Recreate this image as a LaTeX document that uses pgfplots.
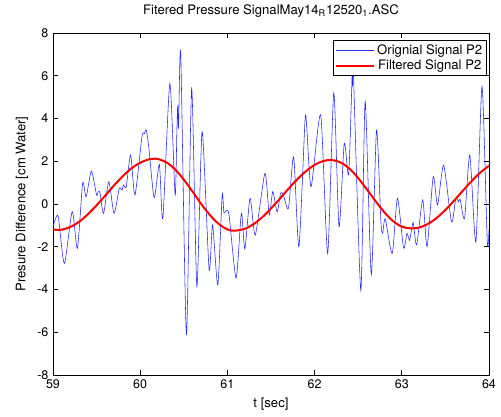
\documentclass[border=0pt]{standalone}
\usepackage{fontspec}
\setmainfont{TeX Gyre Heros}
\usepackage{pgfplots}
\pgfplotsset{compat=1.18}

\begin{document}
\fontsize{10.5}{12}\selectfont
\begin{tikzpicture}
% keep the page the size of the reference (1px = 0.8pt)
\useasboundingbox (-42.4pt,-32.8pt) rectangle (358.4pt,300pt);
\begin{axis}[
  at={(0,0)}, anchor=south west,
  width=348.8pt, height=273.6pt, scale only axis,
  xmin=59, xmax=64, ymin=-8, ymax=8,
  xtick={59,60,61,62,63,64},
  ytick={-8,-6,-4,-2,0,2,4,6,8},
  tick align=inside, tick pos=both, major tick length=4pt,
  axis line style={line width=0.6pt},
  every tick/.style={black, line width=0.6pt},
  /pgf/number format/assume math mode=true,
  tick label style={font=\fontsize{10}{11}\selectfont},
  title={Fitered Pressure SignalMay14\textsubscript{R}12520\textsubscript{1}.ASC},
  title style={yshift=3pt},
  xlabel={t [sec]},
  ylabel={Presure Difference [cm Water]},
  legend style={at={(1,1)}, anchor=north east, xshift=-1.6pt, yshift=-5.6pt,
    draw=black, fill=white, line width=0.6pt, font=\fontsize{10.5}{12}\selectfont,
    inner sep=1.5pt, row sep=-1.5pt},
  legend image code/.code={\draw[#1] (0pt,0pt) -- (30pt,0pt);},
]

% raw signal
\addplot[blue!85!white, line width=0.45pt, smooth, tension=0.4] coordinates {
(59.00,-1.10)(59.02,-0.80)(59.06,-0.59)(59.13,-2.78)(59.22,-0.36)(59.28,-2.07)
(59.34,0.97)(59.38,0.34)(59.44,1.54)(59.50,0.42)(59.52,0.60)(59.54,0.50)
(59.58,-0.44)(59.64,1.04)(59.70,-0.44)(59.76,0.73)(59.79,0.65)(59.81,0.89)
(59.84,0.80)(59.89,2.29)(59.94,0.42)(60.02,3.15)(60.05,3.30)(60.07,3.46)
(60.10,2.60)(60.16,0.30)(60.22,1.85)(60.26,-0.67)(60.34,5.64)(60.40,0.42)
(60.42,3.30)(60.43,4.60)(60.44,3.60)(60.465,7.00)(60.53,-6.10)(60.59,5.40)
(60.65,-3.86)(60.71,3.38)(60.79,-3.05)(60.83,-0.98)(60.89,-3.79)(60.94,0.42)
(60.96,-0.40)(60.99,-0.30)(61.02,-0.55)(61.10,-3.47)(61.16,-0.44)(61.20,-2.10)
(61.26,0.27)(61.32,-1.45)(61.43,1.43)(61.48,-0.51)(61.52,0.58)(61.57,-0.36)
(61.61,0.50)(61.64,0.45)(61.70,-0.20)(61.76,2.21)(61.82,-2.00)(61.89,3.90)
(61.91,3.60)(61.96,0.81)(62.07,4.16)(62.15,-2.31)(62.22,5.20)(62.28,-1.06)
(62.34,2.84)(62.39,1.36)(62.425,5.30)(62.43,6.00)(62.435,5.50)(62.445,6.10)
(62.53,-4.05)(62.58,4.80)(62.65,-3.30)(62.71,3.46)(62.76,-0.80)(62.78,-1.37)
(62.81,-0.70)(62.89,-2.31)(62.95,0.27)(63.02,-2.05)(63.06,-1.37)(63.09,-1.70)
(63.13,-0.87)(63.17,-1.92)(63.24,0.19)(63.29,-2.00)(63.36,1.28)(63.41,-0.05)
(63.48,1.82)(63.57,-0.83)(63.62,0.27)(63.65,0.10)(63.67,0.20)(63.72,-0.67)
(63.78,2.29)(63.85,-1.76)(63.92,5.50)(63.98,-1.76)(64.00,-1.20)
};
\addlegendentry{Orignial Signal P2}

% filtered signal
\addplot[red, line width=1.6pt, smooth] coordinates {
(59.0,-1.20)(59.1,-1.20)(59.2,-1.07)(59.3,-0.83)(59.4,-0.48)(59.5,-0.06)
(59.6,0.40)(59.7,0.87)(59.8,1.30)(59.9,1.67)(60.0,1.93)(60.1,2.09)(60.17,2.12)
(60.2,2.11)(60.3,1.95)(60.4,1.62)(60.5,1.14)(60.6,0.58)(60.7,0.00)(60.8,-0.52)
(60.9,-0.93)(61.0,-1.19)(61.08,-1.25)(61.2,-1.16)(61.3,-0.94)(61.4,-0.62)
(61.5,-0.21)(61.6,0.24)(61.7,0.71)(61.8,1.15)(61.9,1.53)(62.0,1.83)(62.1,2.01)
(62.19,2.06)(62.3,1.94)(62.4,1.65)(62.5,1.21)(62.6,0.68)(62.7,0.13)(62.8,-0.39)
(62.9,-0.80)(63.0,-1.06)(63.1,-1.14)(63.2,-1.10)(63.3,-0.93)(63.4,-0.65)
(63.5,-0.28)(63.6,0.16)(63.7,0.62)(63.8,1.07)(63.9,1.47)(64.0,1.79)
};
\addlegendentry{Filtered Signal P2}

\end{axis}
\end{tikzpicture}
\end{document}
